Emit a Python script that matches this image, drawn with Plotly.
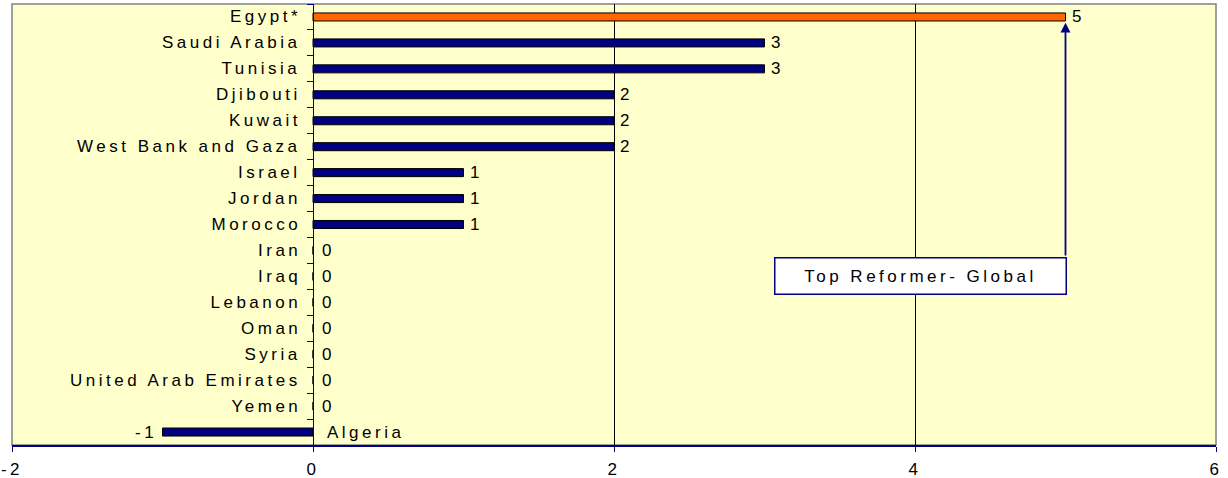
import plotly.graph_objects as go

countries = ["Egypt*", "Saudi Arabia", "Tunisia", "Djibouti", "Kuwait",
             "West Bank and Gaza", "Israel", "Jordan", "Morocco", "Iran",
             "Iraq", "Lebanon", "Oman", "Syria", "United Arab Emirates",
             "Yemen", "Algeria"]
reforms = [5, 3, 3, 2, 2, 2, 1, 1, 1, 0, 0, 0, 0, 0, 0, 0, -1]
x_ticks = [-2, 0, 2, 4, 6]
highlight = "Egypt*"
callout_text = "Top Reformer- Global"

NAVY = "#000080"
ORANGE = "#FF6600"
FONT = "Liberation Sans, Arial, sans-serif"
FS = 17
TXT = dict(family=FONT, size=FS, color="black")

colors = [ORANGE if c == highlight else NAVY for c in countries]

fig = go.Figure()
fig.add_trace(go.Bar(
    x=reforms, y=countries, orientation="h",
    marker=dict(color=colors, line=dict(color="black", width=1)),
    width=0.31, hoverinfo="skip", showlegend=False,
))

annotations = []
for c, v in zip(countries, reforms):
    # category name: left of the axis for non-negative values, right of it otherwise
    if v >= 0:
        annotations.append(dict(x=0, y=c, xref="x", yref="y", text=c, showarrow=False,
                                xanchor="right", align="right", xshift=-10, font=TXT))
        annotations.append(dict(x=v, y=c, xref="x", yref="y", text=str(v), showarrow=False,
                                xanchor="left", align="left",
                                xshift=4 if v > 0 else 7, font=TXT))
    else:
        annotations.append(dict(x=0, y=c, xref="x", yref="y", text=c, showarrow=False,
                                xanchor="left", align="left", xshift=12, font=TXT))
        annotations.append(dict(x=v, y=c, xref="x", yref="y", text=str(v), showarrow=False,
                                xanchor="right", align="right", xshift=-4, font=TXT))

top_idx = countries.index(highlight)
top_val = reforms[top_idx]

# arrow from callout box up to the top reformer's bar
annotations.append(dict(
    x=top_val, y=top_idx + 0.22, xref="x", yref="y",
    ax=top_val, ay=top_idx + 9.25, axref="x", ayref="y",
    text="", showarrow=True, arrowhead=2, arrowsize=1.1, arrowwidth=1.8,
    arrowcolor=NAVY, standoff=0, startstandoff=0,
))
# callout box
annotations.append(dict(
    x=top_val, y=top_idx + 9.25, xref="x", yref="y",
    xanchor="right", yanchor="top", xshift=1,
    text=callout_text, showarrow=False,
    width=288, height=33, align="center",
    bgcolor="white", bordercolor=NAVY, borderwidth=1.5, borderpad=1,
    font=TXT,
))

fig.update_layout(
    width=1228, height=478,
    margin=dict(l=12, r=12, t=4, b=33, autoexpand=False),
    paper_bgcolor="white",
    plot_bgcolor="#FFFFCC",
    annotations=annotations,
    xaxis=dict(
        range=[x_ticks[0], x_ticks[-1]], tickvals=x_ticks, ticktext=[str(t) for t in x_ticks],
        showgrid=True, gridcolor="black", gridwidth=1, zeroline=False,
        showline=True, linecolor=NAVY, linewidth=1.5,
        ticks="outside", ticklen=5, tickcolor=NAVY, ticklabelstandoff=3,
        tickfont=TXT, fixedrange=True, layer="above traces", automargin=False,
    ),
    yaxis=dict(
        type="category", categoryorder="array", categoryarray=countries,
        autorange="reversed",
        anchor="free", position=(0 - x_ticks[0]) / (x_ticks[-1] - x_ticks[0]),
        showline=True, linecolor=NAVY, linewidth=1.2,
        ticks="outside", tickson="boundaries", ticklen=6, tickcolor=NAVY,
        showticklabels=False, showgrid=False, zeroline=False,
        fixedrange=True, automargin=False,
    ),
    shapes=[dict(type="rect", xref="paper", yref="paper", x0=0, x1=1, y0=0, y1=1,
                 line=dict(color="#808080", width=1.5), layer="below")],
)

post = (
    "var s=document.createElement('style');"
    "s.textContent='html,body{margin:0;padding:0;overflow:hidden} svg text{letter-spacing:3.5px}';"
    "document.head.appendChild(s);"
)
fig.write_html("out.html", config={"displayModeBar": False}, post_script=post)
